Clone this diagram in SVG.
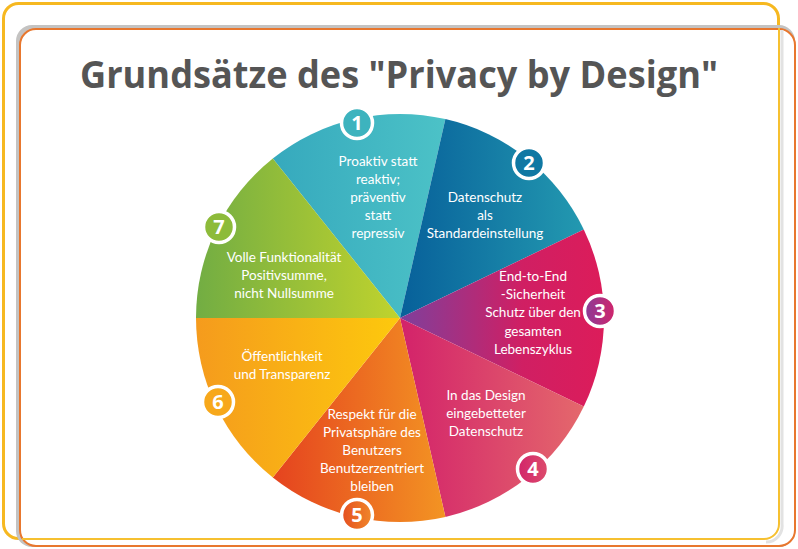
<svg xmlns="http://www.w3.org/2000/svg" width="798" height="549" viewBox="0 0 798 549">
<defs>
<linearGradient id="g1" x1="0" y1="0" x2="1" y2="0"><stop offset="0" stop-color="#36a9bd"/><stop offset="1" stop-color="#4cc2c7"/></linearGradient>
<linearGradient id="g2" x1="0" y1="0" x2="1" y2="0"><stop offset="0" stop-color="#07609a"/><stop offset="1" stop-color="#2399b0"/></linearGradient>
<linearGradient id="g3" x1="0" y1="0" x2="1" y2="0"><stop offset="0" stop-color="#7f3f9c"/><stop offset="0.6" stop-color="#d01f63"/><stop offset="1" stop-color="#dc1c5a"/></linearGradient>
<linearGradient id="g4" x1="0" y1="0" x2="1" y2="0"><stop offset="0" stop-color="#d3226a"/><stop offset="1" stop-color="#e4686c"/></linearGradient>
<linearGradient id="g5" x1="0" y1="0" x2="1" y2="0"><stop offset="0" stop-color="#e5431f"/><stop offset="1" stop-color="#f39423"/></linearGradient>
<linearGradient id="g6" x1="0" y1="0" x2="1" y2="0"><stop offset="0" stop-color="#f59b1d"/><stop offset="1" stop-color="#fdc90d"/></linearGradient>
<linearGradient id="g7" x1="0" y1="0" x2="1" y2="0"><stop offset="0" stop-color="#72ad43"/><stop offset="1" stop-color="#c0d32d"/></linearGradient>
<linearGradient id="b3" x1="0" y1="0" x2="1" y2="0"><stop offset="0" stop-color="#8a3c98"/><stop offset="1" stop-color="#d2246a"/></linearGradient>
<linearGradient id="b5" x1="0" y1="0" x2="1" y2="0"><stop offset="0" stop-color="#e54e1f"/><stop offset="1" stop-color="#f0882a"/></linearGradient>
<linearGradient id="b4" x1="0" y1="0" x2="1" y2="0"><stop offset="0" stop-color="#d2246a"/><stop offset="1" stop-color="#dd4d6c"/></linearGradient>
</defs>
<style>
.lbl{font-family:Lato,"Liberation Sans",sans-serif;font-size:13.5px;fill:#ffffff;text-anchor:middle}
.badge circle{stroke:#ffffff;stroke-width:3.5}
.badge text{font-family:"Open Sans","Liberation Sans",sans-serif;font-weight:bold;font-size:20px;fill:#ffffff;text-anchor:middle}
.title{font-family:"Open Sans","Liberation Sans",sans-serif;font-weight:bold;font-size:38px;fill:#555555;text-anchor:middle}
</style>
<g id="frame">
<rect x="3.5" y="3.5" width="775" height="535" rx="15" fill="#ffffff" stroke="#f6b820" stroke-width="3"/>
<rect x="16" y="25" width="779" height="522" rx="16" fill="#c4c3c2"/>
<rect x="20" y="29" width="775" height="517" rx="16" fill="#ffffff" stroke="#e8772e" stroke-width="2"/>
<path d="M782,30 V524 A16,16 0 0 1 766,542" fill="none" stroke="#e2e2e2" stroke-width="3"/>
<path d="M779,28 V524 A15,15 0 0 1 764,539 H22" fill="none" stroke="#f6c030" stroke-width="2"/>
</g>
<text class="title" x="399" y="88" textLength="638" lengthAdjust="spacingAndGlyphs">Grundsätze des "Privacy by Design"</text>
<g id="slice1"><path d="M400,318 L272.8,158.5 A204,204 0 0 1 445.4,119.1 Z" fill="url(#g1)"/>
<text class="lbl"><tspan x="378" y="166">Proaktiv statt</tspan><tspan x="378" y="184">reaktiv;</tspan><tspan x="378" y="202">präventiv</tspan><tspan x="378" y="220">statt</tspan><tspan x="378" y="238">repressiv</tspan></text></g>
<g id="slice2"><path d="M400,318 L445.4,119.1 A204,204 0 0 1 583.8,229.5 Z" fill="url(#g2)"/>
<text class="lbl"><tspan x="485" y="202">Datenschutz</tspan><tspan x="485" y="220">als</tspan><tspan x="485" y="238">Standardeinstellung</tspan></text></g>
<g id="slice3"><path d="M400,318 L583.8,229.5 A204,204 0 0 1 583.8,406.5 Z" fill="url(#g3)"/>
<text class="lbl"><tspan x="533" y="281">End-to-End</tspan><tspan x="533" y="299">-Sicherheit</tspan><tspan x="533" y="317">Schutz über den</tspan><tspan x="533" y="336">gesamten</tspan><tspan x="533" y="354">Lebenszyklus</tspan></text></g>
<g id="slice4"><path d="M400,318 L583.8,406.5 A204,204 0 0 1 445.4,516.9 Z" fill="url(#g4)"/>
<text class="lbl"><tspan x="486" y="400">In das Design</tspan><tspan x="486" y="418">eingebetteter</tspan><tspan x="486" y="436">Datenschutz</tspan></text></g>
<g id="slice5"><path d="M400,318 L445.4,516.9 A204,204 0 0 1 272.8,477.5 Z" fill="url(#g5)"/>
<text class="lbl"><tspan x="372" y="419">Respekt für die</tspan><tspan x="372" y="437">Privatsphäre des</tspan><tspan x="372" y="455">Benutzers</tspan><tspan x="372" y="473">Benutzerzentriert</tspan><tspan x="372" y="491">bleiben</tspan></text></g>
<g id="slice6"><path d="M400,318 L272.8,477.5 A204,204 0 0 1 196,318 Z" fill="url(#g6)"/>
<text class="lbl"><tspan x="282" y="361">Öffentlichkeit</tspan><tspan x="282" y="379">und Transparenz</tspan></text></g>
<g id="slice7"><path d="M400,318 L196,318 A204,204 0 0 1 272.8,158.5 Z" fill="url(#g7)"/>
<text class="lbl"><tspan x="284" y="262">Volle Funktionalität</tspan><tspan x="284" y="280">Positivsumme,</tspan><tspan x="284" y="298">nicht Nullsumme</tspan></text></g>
<g id="badge1" class="badge"><circle cx="357" cy="123" r="15.5" fill="#3db3be"/><text x="357" y="130">1</text></g>
<g id="badge2" class="badge"><circle cx="529" cy="163" r="15.5" fill="#0f78a3"/><text x="529" y="170">2</text></g>
<g id="badge3" class="badge"><circle cx="600" cy="311" r="15.5" fill="url(#b3)"/><text x="600" y="318">3</text></g>
<g id="badge4" class="badge"><circle cx="533" cy="469" r="15.5" fill="url(#b4)"/><text x="533" y="476">4</text></g>
<g id="badge5" class="badge"><circle cx="357" cy="515" r="15.5" fill="url(#b5)"/><text x="357" y="522">5</text></g>
<g id="badge6" class="badge"><circle cx="218" cy="402" r="15.5" fill="#f7a81b"/><text x="218" y="409">6</text></g>
<g id="badge7" class="badge"><circle cx="219" cy="227" r="15.5" fill="#8dbb3a"/><text x="219" y="234">7</text></g>
</svg>
